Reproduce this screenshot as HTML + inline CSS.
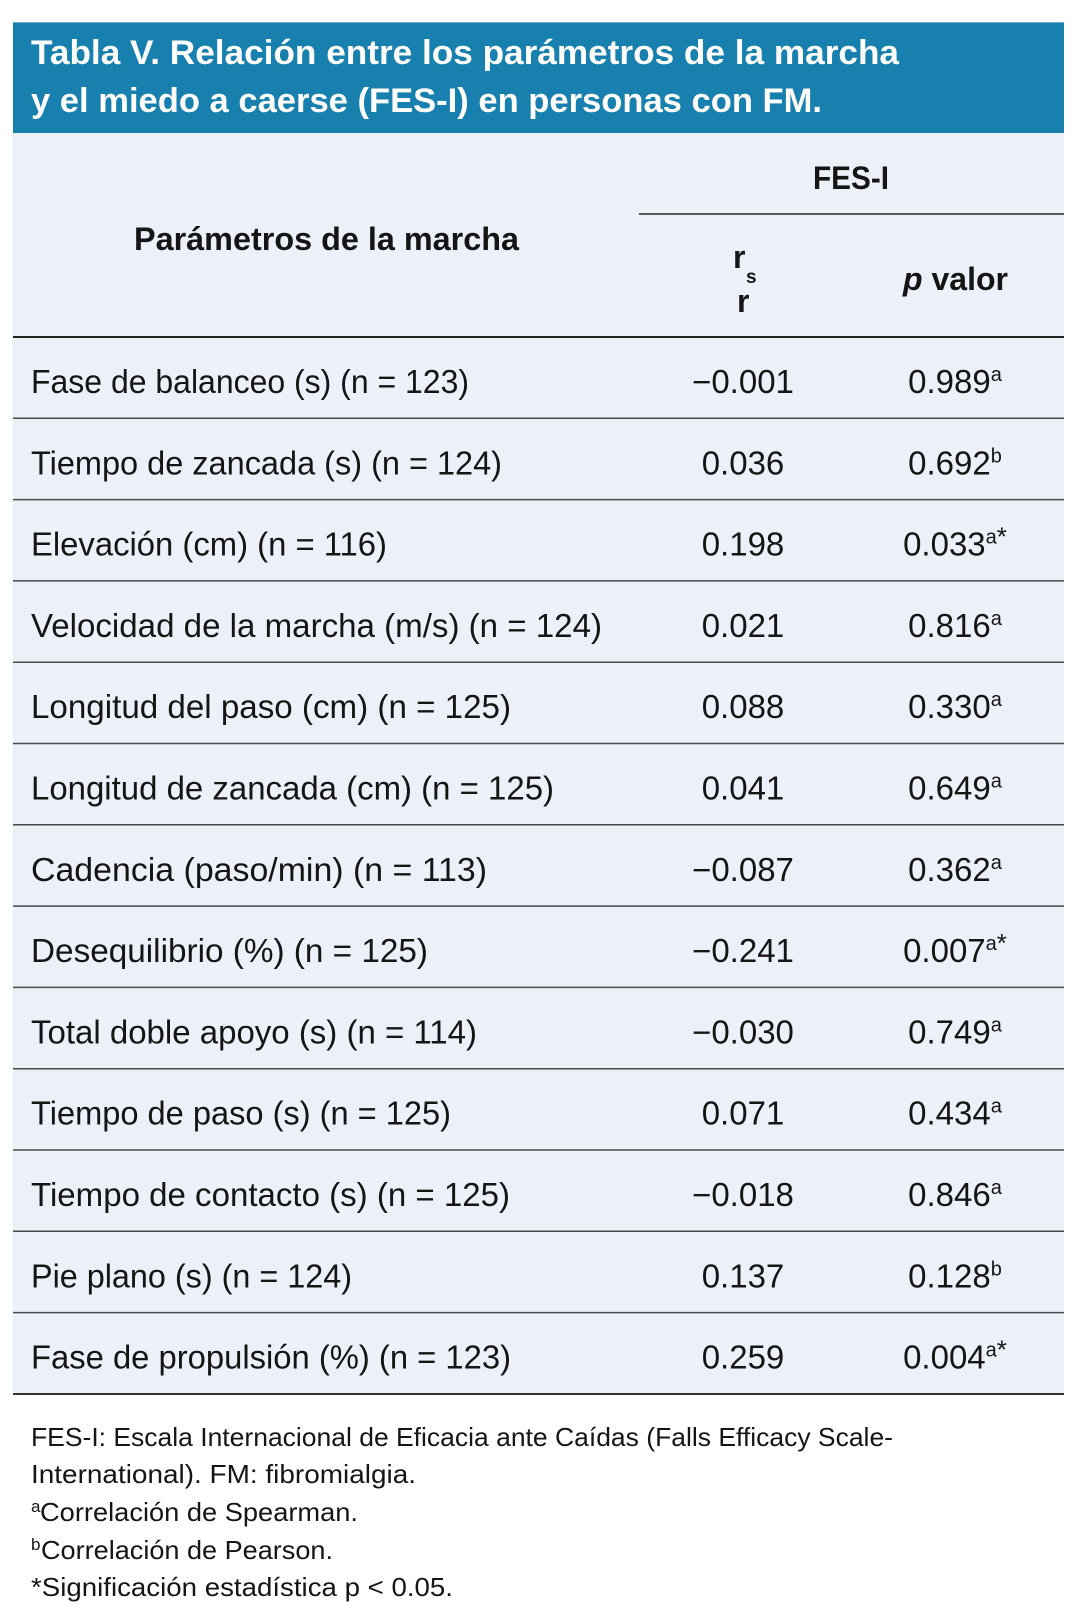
<!DOCTYPE html>
<html>
<head>
<meta charset="utf-8">
<style>
  html, body { margin: 0; padding: 0; background: #ffffff; }
  svg { display: block; }
  text { font-family: "Liberation Sans", Arial, sans-serif; fill: #151515; }
</style>
</head>
<body>
<svg width="1080" height="1619" viewBox="0 0 1080 1619" xmlns="http://www.w3.org/2000/svg">
  <rect x="0" y="0" width="1080" height="1619" fill="#ffffff"/>
  <!-- header -->
  <rect x="13" y="22" width="1051" height="111" fill="#1780af"/>
  <rect x="13" y="22" width="1051" height="1" fill="#6aaed2"/>
  <text x="31" y="64" font-size="34" font-weight="bold" style="fill:#ffffff" textLength="868" lengthAdjust="spacingAndGlyphs">Tabla V. Relación entre los parámetros de la marcha</text>
  <text x="31" y="112" font-size="34" font-weight="bold" style="fill:#ffffff" textLength="791" lengthAdjust="spacingAndGlyphs">y el miedo a caerse (FES-I) en personas con FM.</text>

  <!-- table body bg -->
  <rect x="13" y="133" width="1051" height="1261" fill="#ecf0f8"/>

  <!-- column headers -->
  <text x="134" y="250" font-size="32" font-weight="bold" textLength="385" lengthAdjust="spacingAndGlyphs">Parámetros de la marcha</text>
  <text x="813" y="189" font-size="32" font-weight="bold" textLength="76" lengthAdjust="spacingAndGlyphs">FES-I</text>
  <line x1="639" y1="214" x2="1064" y2="214" stroke="#2a2a2a" stroke-width="1.5"/>
  <text x="733" y="268" font-size="32" font-weight="bold">r</text>
  <text x="746" y="283" font-size="19" font-weight="bold">s</text>
  <text x="737" y="312" font-size="32" font-weight="bold">r</text>
  <text x="903" y="290" font-size="32" font-weight="bold" textLength="105" lengthAdjust="spacingAndGlyphs"><tspan font-style="italic">p</tspan> valor</text>

  <!-- horizontal lines -->
  <line x1="13" y1="337" x2="1064" y2="337" stroke="#222" stroke-width="2"/>
  <g stroke="#4a4a4a" stroke-width="1.5">
    <line x1="13" y1="418.3" x2="1064" y2="418.3"/>
    <line x1="13" y1="499.6" x2="1064" y2="499.6"/>
    <line x1="13" y1="580.9" x2="1064" y2="580.9"/>
    <line x1="13" y1="662.2" x2="1064" y2="662.2"/>
    <line x1="13" y1="743.5" x2="1064" y2="743.5"/>
    <line x1="13" y1="824.8" x2="1064" y2="824.8"/>
    <line x1="13" y1="906.1" x2="1064" y2="906.1"/>
    <line x1="13" y1="987.4" x2="1064" y2="987.4"/>
    <line x1="13" y1="1068.7" x2="1064" y2="1068.7"/>
    <line x1="13" y1="1150" x2="1064" y2="1150"/>
    <line x1="13" y1="1231.3" x2="1064" y2="1231.3"/>
    <line x1="13" y1="1312.6" x2="1064" y2="1312.6"/>
  </g>
  <line x1="13" y1="1394" x2="1064" y2="1394" stroke="#333" stroke-width="2"/>

  <!-- rows -->
  <g font-size="33">
    <text x="31" y="393" textLength="438" lengthAdjust="spacingAndGlyphs">Fase de balanceo (s) (n = 123)</text>
    <text x="743" y="393" text-anchor="middle">−0.001</text>
    <text x="955" y="393" text-anchor="middle">0.989<tspan dy="-12" font-size="20">a</tspan></text>

    <text x="31" y="474.3" textLength="471" lengthAdjust="spacingAndGlyphs">Tiempo de zancada (s) (n = 124)</text>
    <text x="743" y="474.3" text-anchor="middle">0.036</text>
    <text x="955" y="474.3" text-anchor="middle">0.692<tspan dy="-12" font-size="20">b</tspan></text>

    <text x="31" y="555.6" textLength="356" lengthAdjust="spacingAndGlyphs">Elevación (cm) (n = 116)</text>
    <text x="743" y="555.6" text-anchor="middle">0.198</text>
    <text x="955" y="555.6" text-anchor="middle">0.033<tspan dy="-12" font-size="20">a</tspan><tspan dy="2" font-size="26">*</tspan></text>

    <text x="31" y="636.9" textLength="571" lengthAdjust="spacingAndGlyphs">Velocidad de la marcha (m/s) (n = 124)</text>
    <text x="743" y="636.9" text-anchor="middle">0.021</text>
    <text x="955" y="636.9" text-anchor="middle">0.816<tspan dy="-12" font-size="20">a</tspan></text>

    <text x="31" y="718.2" textLength="480" lengthAdjust="spacingAndGlyphs">Longitud del paso (cm) (n = 125)</text>
    <text x="743" y="718.2" text-anchor="middle">0.088</text>
    <text x="955" y="718.2" text-anchor="middle">0.330<tspan dy="-12" font-size="20">a</tspan></text>

    <text x="31" y="799.5" textLength="523" lengthAdjust="spacingAndGlyphs">Longitud de zancada (cm) (n = 125)</text>
    <text x="743" y="799.5" text-anchor="middle">0.041</text>
    <text x="955" y="799.5" text-anchor="middle">0.649<tspan dy="-12" font-size="20">a</tspan></text>

    <text x="31" y="880.8" textLength="456" lengthAdjust="spacingAndGlyphs">Cadencia (paso/min) (n = 113)</text>
    <text x="743" y="880.8" text-anchor="middle">−0.087</text>
    <text x="955" y="880.8" text-anchor="middle">0.362<tspan dy="-12" font-size="20">a</tspan></text>

    <text x="31" y="962.1" textLength="397" lengthAdjust="spacingAndGlyphs">Desequilibrio (%) (n = 125)</text>
    <text x="743" y="962.1" text-anchor="middle">−0.241</text>
    <text x="955" y="962.1" text-anchor="middle">0.007<tspan dy="-12" font-size="20">a</tspan><tspan dy="2" font-size="26">*</tspan></text>

    <text x="31" y="1043.4" textLength="446" lengthAdjust="spacingAndGlyphs">Total doble apoyo (s) (n = 114)</text>
    <text x="743" y="1043.4" text-anchor="middle">−0.030</text>
    <text x="955" y="1043.4" text-anchor="middle">0.749<tspan dy="-12" font-size="20">a</tspan></text>

    <text x="31" y="1124.7" textLength="420" lengthAdjust="spacingAndGlyphs">Tiempo de paso (s) (n = 125)</text>
    <text x="743" y="1124.7" text-anchor="middle">0.071</text>
    <text x="955" y="1124.7" text-anchor="middle">0.434<tspan dy="-12" font-size="20">a</tspan></text>

    <text x="31" y="1206" textLength="479" lengthAdjust="spacingAndGlyphs">Tiempo de contacto (s) (n = 125)</text>
    <text x="743" y="1206" text-anchor="middle">−0.018</text>
    <text x="955" y="1206" text-anchor="middle">0.846<tspan dy="-12" font-size="20">a</tspan></text>

    <text x="31" y="1287.3" textLength="321" lengthAdjust="spacingAndGlyphs">Pie plano (s) (n = 124)</text>
    <text x="743" y="1287.3" text-anchor="middle">0.137</text>
    <text x="955" y="1287.3" text-anchor="middle">0.128<tspan dy="-12" font-size="20">b</tspan></text>

    <text x="31" y="1368.6" textLength="480" lengthAdjust="spacingAndGlyphs">Fase de propulsión (%) (n = 123)</text>
    <text x="743" y="1368.6" text-anchor="middle">0.259</text>
    <text x="955" y="1368.6" text-anchor="middle">0.004<tspan dy="-12" font-size="20">a</tspan><tspan dy="2" font-size="26">*</tspan></text>
  </g>

  <!-- footnotes -->
  <g font-size="26">
    <text x="31" y="1446" textLength="862" lengthAdjust="spacingAndGlyphs">FES-I: Escala Internacional de Eficacia ante Caídas (Falls Efficacy Scale-</text>
    <text x="31" y="1483" textLength="385" lengthAdjust="spacingAndGlyphs">International). FM: fibromialgia.</text>
    <text x="31" y="1512" font-size="17">a</text>
    <text x="40" y="1521" textLength="318" lengthAdjust="spacingAndGlyphs">Correlación de Spearman.</text>
    <text x="31" y="1550" font-size="17">b</text>
    <text x="41" y="1559" textLength="292" lengthAdjust="spacingAndGlyphs">Correlación de Pearson.</text>
    <text x="31" y="1596" textLength="422" lengthAdjust="spacingAndGlyphs">*Significación estadística p &lt; 0.05.</text>
  </g>
</svg>
</body>
</html>
